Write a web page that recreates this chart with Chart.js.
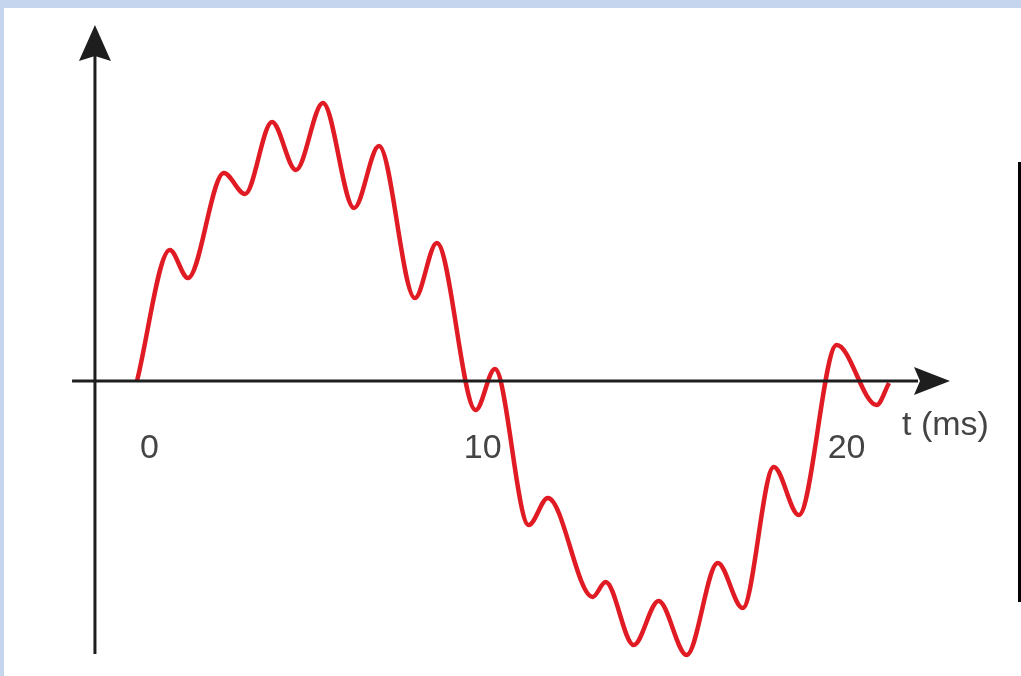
<!DOCTYPE html>
<html>
<head>
<meta charset="utf-8">
<script src="https://cdn.jsdelivr.net/npm/chart.js@4/dist/chart.umd.min.js"></script>
<style>
  html, body { margin: 0; padding: 0; }
  body { width: 1021px; height: 676px; background: #c6d5ee; position: relative; overflow: hidden; }
  #sheet { position: absolute; left: 4px; top: 8px; right: 0; bottom: 0; background: #fff; }
  #edge { position: absolute; left: 1018px; top: 162px; width: 3px; height: 440px; background: #000; }
  #wave { position: absolute; left: 0; top: 0; }
</style>
</head>
<body>
<div id="sheet"></div>
<div id="edge"></div>
<canvas id="wave" width="1021" height="676"></canvas>
<script>
	'use strict';

	// tiempo (ms) y amplitud
	const tiempo = [0, 0.96, 1.49, 2.54, 3.16, 3.95, 4.65, 5.44, 6.35, 7.08, 8.13, 8.77, 9.91, 10.47,
		11.46, 12.02, 13.33, 13.71, 14.53, 15.26, 16.08, 16.99, 17.72, 18.63, 19.36, 20.47, 21.64, 22.0];
	const amplitud = [0, 1.31, 1.03, 2.08, 1.87, 2.59, 2.11, 2.78, 1.73, 2.35, 0.83, 1.38, -0.29, 0.12,
		-1.44, -1.17, -2.16, -2.01, -2.64, -2.20, -2.74, -1.82, -2.27, -0.86, -1.34, 0.36, -0.24, -0.02];
	const marcas = [0, 10, 20];
	const etiquetaEje = 't (ms)';

	const puntos = tiempo.map(function(t, i) {
		return { x: t, y: amplitud[i] };
	});

	/**
	 * Ejes con flechas y etiquetas
	 */
	const ejesPlugin = {
		id: 'ejes',
		afterDatasetsDraw: function(chart) {
			const ctx = chart.ctx;
			const xs = chart.scales.x;
			const ys = chart.scales.y;
			const y0 = ys.getPixelForValue(0);
			const xEje = xs.getPixelForValue(-1.23);

			ctx.save();
			ctx.strokeStyle = '#1e1e1e';
			ctx.fillStyle = '#1e1e1e';
			ctx.lineWidth = 3;

			// eje horizontal
			ctx.beginPath();
			ctx.moveTo(xs.getPixelForValue(-1.9), y0);
			ctx.lineTo(918, y0);
			ctx.stroke();
			ctx.beginPath();
			ctx.moveTo(950, y0);
			ctx.lineTo(914, y0 - 14);
			ctx.lineTo(920, y0);
			ctx.lineTo(914, y0 + 14);
			ctx.closePath();
			ctx.fill();

			// eje vertical
			ctx.beginPath();
			ctx.moveTo(xEje, 654);
			ctx.lineTo(xEje, 56);
			ctx.stroke();
			ctx.beginPath();
			ctx.moveTo(xEje, 25);
			ctx.lineTo(xEje - 16, 61);
			ctx.lineTo(xEje, 56);
			ctx.lineTo(xEje + 16, 61);
			ctx.closePath();
			ctx.fill();

			// etiquetas
			const desplaz = [3, -15, 7];
			ctx.fillStyle = '#444';
			ctx.font = '34px "Liberation Sans", Arial, sans-serif';
			ctx.textAlign = 'left';
			ctx.textBaseline = 'alphabetic';
			marcas.forEach(function(m, i) {
				ctx.fillText(String(m), xs.getPixelForValue(m) + desplaz[i], 458);
			});
			ctx.fillText(etiquetaEje, 902, 435);
			ctx.restore();
		}
	};

	new Chart(document.getElementById('wave').getContext('2d'), {
		type: 'line',
		data: {
			datasets: [{
				data: puntos,
				borderColor: '#e01b24',
				borderWidth: 4.5,
				pointRadius: 0,
				fill: false,
				cubicInterpolationMode: 'monotone',
				clip: false
			}]
		},
		options: {
			responsive: false,
			animation: false,
			devicePixelRatio: 1,
			layout: {
				padding: { left: 137, right: 132, top: 81, bottom: 5 }
			},
			plugins: {
				legend: { display: false },
				tooltip: { enabled: false }
			},
			scales: {
				x: { type: 'linear', min: 0, max: 22, display: false },
				y: { min: -2.9, max: 3, display: false }
			}
		},
		plugins: [ejesPlugin]
	});
</script>
</body>
</html>
